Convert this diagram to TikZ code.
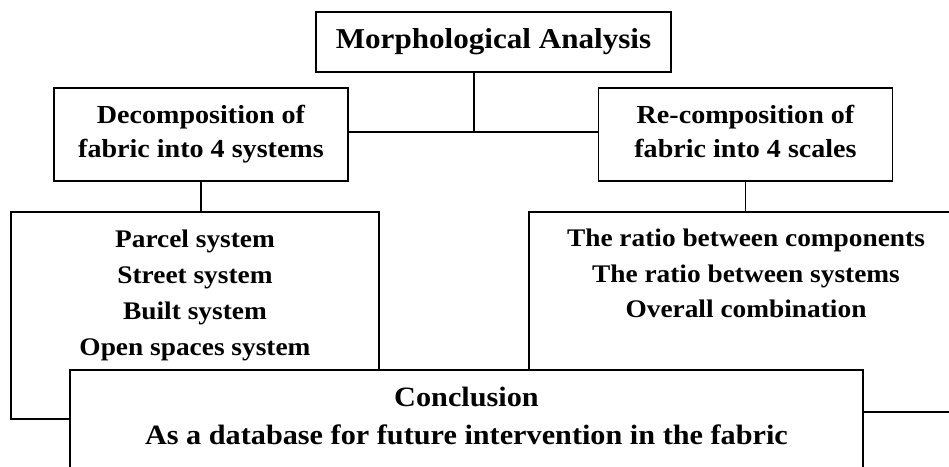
\documentclass[tikz,border=0pt]{standalone}
\usepackage{fontspec}
\setmainfont{Liberation Serif}[FakeStretch=1.08]
\usetikzlibrary{positioning}

\begin{document}
\begin{tikzpicture}[
		x=0.75pt, y=-0.75pt,
		box/.style    = {draw, rectangle, line width=0.8pt, fill=white, inner sep=0pt, outer sep=0pt},
		head/.style   = {box, font=\bfseries\fontsize{21.6}{24}\selectfont},
		branch/.style = {box, align=center, text depth=4.5pt, minimum width=220.5pt, minimum height=69.75pt, font=\bfseries\fontsize{19.5}{25.5}\selectfont},
		group/.style  = {box, minimum height=150pt},
		items/.style  = {align=center, inner sep=0pt, font=\bfseries\fontsize{19}{26.8}\selectfont},
		link/.style   = {line width=0.8pt}]

	\useasboundingbox (0,0) rectangle (949,467);
	\clip (0,0) rectangle (949,467);

	% root of the tree
	\node[head, minimum width=266.25pt, minimum height=45pt] (title) at (493.5,42) {Morphological Analysis};

	% the two branches
	\node[branch] (decomp) at (201,134.5) {Decomposition of\\fabric into 4 systems};
	\node[branch] (recomp) at (745.5,134.5) {Re-composition of\\fabric into 4 scales};

	% boxes under the branches, text sits at the top
	\node[group, minimum width=276pt, minimum height=155.25pt] (sys) at (195,315.5) {};
	\node[items, below=13.5pt of sys.north] (systxt) {Parcel system\\Street system\\Built system\\Open spaces system};

	\node[group, minimum width=325.5pt] (scal) at (746,312) {};
	\node[items, below=12.5pt of scal.north] (scaltxt) {The ratio between components\\The ratio between systems\\Overall combination};

	% conclusion covers the lower part of both boxes
	\node[box, minimum width=594.75pt, minimum height=100pt, anchor=north] (concl) at (466.5,370) {};
	\node[items, below=12.75pt of concl.north, font=\bfseries\fontsize{21}{28.5}\selectfont] (concltxt) {Conclusion\\As a database for future intervention in the fabric};

	% lines between the levels
	\coordinate (tj) at (474,132);
	\draw[link] (title.south -| tj) -- (tj);
	\draw[link] (decomp.east |- tj) -- (recomp.west |- tj);
	\foreach \b/\l in {decomp/sys, recomp/scal}
	\draw[link] (\b.south) -- (\b.south |- \l.north);
\end{tikzpicture}
\end{document}
